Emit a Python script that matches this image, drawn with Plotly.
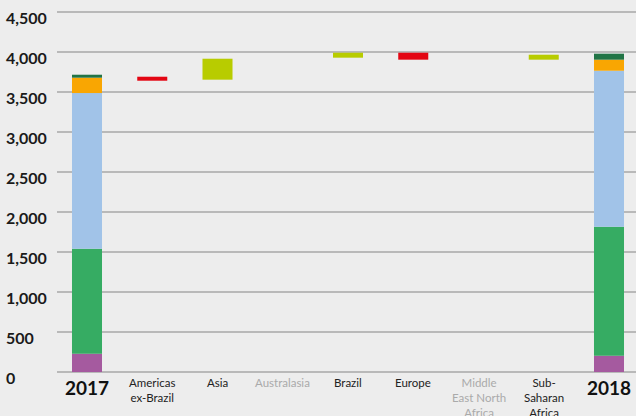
import plotly.graph_objects as go

# ---- data ----
categories = ["2017", "Americas<br>ex-Brazil", "Asia", "Australasia", "Brazil", "Europe",
              "Middle<br>East North<br>Africa", "Sub-<br>Saharan<br>Africa", "2018"]
has_data = [True, True, True, False, True, True, False, True, True]

stack_colors = ["#a55a9f", "#36ac63", "#a1c3e8", "#f9a602", "#217446"]
stack_2017 = [229, 1312, 1946, 192, 37]
stack_2018 = [204, 1612, 1950, 138, 75]

regions = ["Americas ex-Brazil", "Asia", "Australasia", "Brazil", "Europe",
           "Middle East North Africa", "Sub-Saharan Africa"]
region_start = [3691, 3654, 0, 3929, 3991, 0, 3904]
region_change = [-50, 262, 0, 62, -87, 0, 62]

y_ticks = [0, 500, 1000, 1500, 2000, 2500, 3000, 3500, 4000, 4500]

UP = "#b8cc00"
DOWN = "#e30613"
BG = "#ededed"
GRID = "#b9b9b9"
FONT = "Lato, 'Noto Sans', sans-serif"
W = 0.46

fig = go.Figure()

for i, col in enumerate(stack_colors):
    base17 = sum(stack_2017[:i])
    base18 = sum(stack_2018[:i])
    fig.add_trace(go.Bar(x=[0, 8], y=[stack_2017[i], stack_2018[i]], base=[base17, base18],
                         marker=dict(color=col, line=dict(width=0)), width=W,
                         showlegend=False, hoverinfo="skip"))

rx = [i + 1 for i in range(len(regions)) if region_change[i] != 0]
ry = [region_change[i] for i in range(len(regions)) if region_change[i] != 0]
rb = [region_start[i] for i in range(len(regions)) if region_change[i] != 0]
rc = [UP if v > 0 else DOWN for v in ry]
fig.add_trace(go.Bar(x=rx, y=ry, base=rb, marker=dict(color=rc, line=dict(width=0)),
                     width=W, showlegend=False, hoverinfo="skip"))

L, T, B = 57, 0, 44
plot_w = 636 - L
fig.update_layout(
    width=636, height=416,
    margin=dict(l=L, r=0, t=T, b=B),
    paper_bgcolor=BG, plot_bgcolor=BG,
    barmode="overlay",
    font=dict(family=FONT, size=11, color="#222"),
    xaxis=dict(range=[-30 / 65.25, 8 + 27 / 65.25], showticklabels=False,
               showgrid=False, zeroline=False, showline=False, ticks=""),
    yaxis=dict(range=[0, 372 / 0.08], tickvals=y_ticks, showticklabels=False,
               showgrid=True, gridcolor=GRID, gridwidth=1.5, zeroline=True,
               zerolinecolor=GRID, zerolinewidth=1.5, showline=False),
)

for i, (c, ok) in enumerate(zip(categories, has_data)):
    if c in ("2017", "2018"):
        fig.add_annotation(xref="x", yref="paper", x=i, y=0, text=c, showarrow=False,
                           xanchor="center", yanchor="middle", yshift=-15,
                           font=dict(family=FONT, size=19, color="#111", weight="bold"))
    else:
        fig.add_annotation(xref="x", yref="paper", x=i, y=0, text=c, showarrow=False,
                           xanchor="center", yanchor="top", yshift=-2,
                           font=dict(family=FONT, size=11.5,
                                     color="#222222" if ok else "#aaaaaa"))

for v in y_ticks:
    fig.add_annotation(xref="paper", yref="y", x=(5 - L) / plot_w, y=v, text=f"{v:,}",
                       showarrow=False, xanchor="left", yanchor="middle", yshift=-5.5,
                       xshift=-1,
                       font=dict(family=FONT, size=16, color="#1a1a1a", weight="bold"))

fig.write_html("out.html")
